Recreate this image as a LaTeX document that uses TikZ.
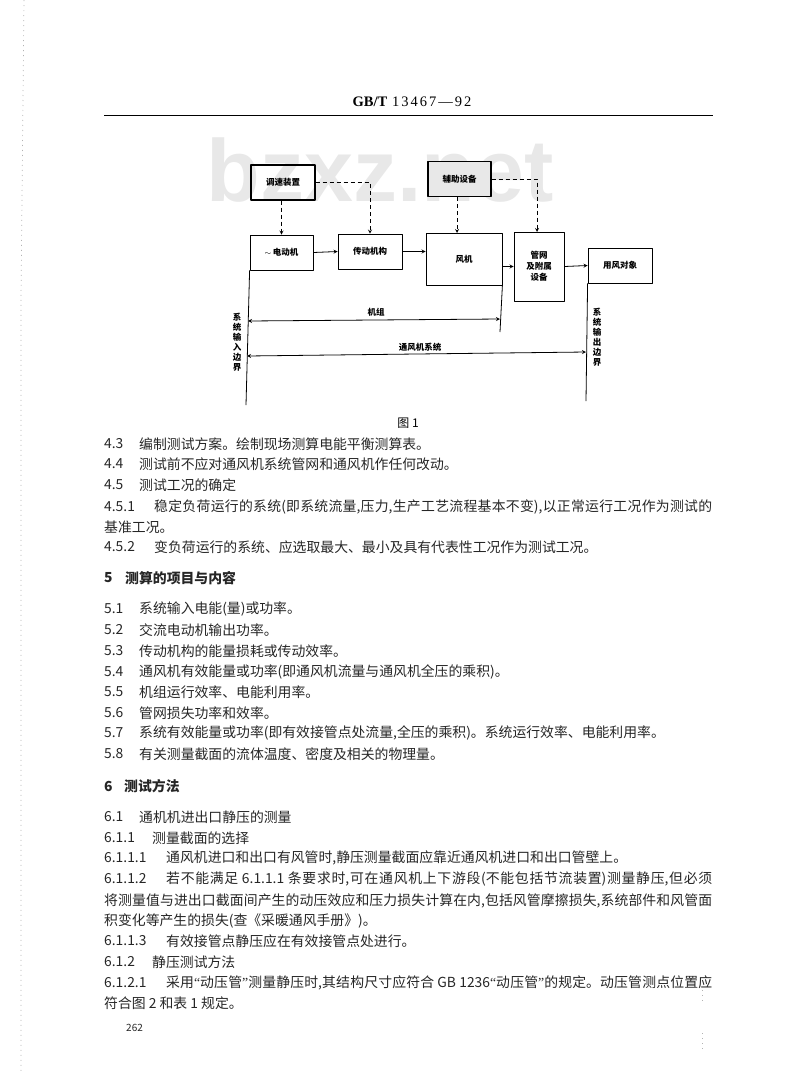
\documentclass[tikz,border=0pt]{standalone}
\usepackage{fontspec}
\setmainfont{Liberation Serif}
\newfontfamily\cjk{Noto Sans CJK SC}
\newfontfamily\wmark{Liberation Sans}
\XeTeXlinebreaklocale "zh"
\XeTeXlinebreakskip=0pt plus 2pt
\newcommand{\fitline}[2]{\parbox{#1pt}{\parfillskip=0pt\noindent #2}}
\newcommand{\gapdigits}{\kern2pt}
\newcommand{\quoteL}{{\rmfamily “}}
\newcommand{\quoteR}{{\rmfamily ”}}
\tikzset{
  unit/.style={draw, line width=.8pt, inner sep=0pt, align=center, font=\cjk\fontsize{8.5}{11}\selectfont\bfseries},
  topunit/.style={unit, line width=1.2pt},
  sigline/.style={line width=.8pt, -stealth},
  ctlline/.style={line width=.8pt, dash pattern=on 4pt off 3pt, -stealth},
  bound/.style={line width=.8pt},
  tag/.style={inner sep=0pt, font=\cjk\fontsize{8.5}{10}\selectfont\bfseries},
  para/.style={anchor=west, inner sep=0pt, text=black!85, font=\cjk\fontsize{13.85}{15}\selectfont},
  head/.style={para, font=\cjk\fontsize{13.85}{15}\selectfont\bfseries},
  scan/.style={line width=.7pt, black!30, dash pattern=on 1pt off 4pt}
}
\begin{document}
\begin{tikzpicture}[x=1pt, y=-1pt, line join=round, >=stealth]
\useasboundingbox (0,0) rectangle (800,1072);
% scan specks
\coordinate (specA) at (24,0);
\coordinate (specB) at (21,300);
\coordinate (specC) at (21,1072);
\coordinate (specD) at (702,990);
\coordinate (specE) at (702,1002);
\coordinate (specF) at (702,1033);
\coordinate (specG) at (702,1050);
\draw[scan] (specA) -- (specB) -- (specC);
\draw[scan] (specD) -- (specE) (specF) -- (specG);
% watermark
\node[inner sep=0pt, text=black!9, font=\wmark\fontsize{88}{88}\selectfont\bfseries] (wmark) at (380,170) {bzxz.net};
% header
\node[inner sep=0pt, font=\fontsize{14.5}{16}\selectfont] (title) at (412,102) {\textbf{GB/T}\kern5pt 1\gapdigits 3\gapdigits 4\gapdigits 6\gapdigits 7\gapdigits ---\gapdigits 9\gapdigits 2};
\coordinate (ruleL) at (104,115);
\coordinate (ruleR) at (713,115);
\draw[line width=1pt] (ruleL) -- (ruleR);
% blocks
\node[topunit, minimum width=64pt, minimum height=35pt] (speedctl) at (283,182.5) {调速装置};
\node[topunit, minimum width=63pt, minimum height=35pt, fill=black!9] (aux) at (459.5,179) {辅助设备};
\node[unit, minimum width=63pt, minimum height=35pt] (motor) at (281.5,252.5) {$\sim$\,电动机};
\node[unit, minimum width=64pt, minimum height=35pt] (drive) at (370,251.5) {传动机构};
\node[unit, minimum width=76pt, minimum height=52pt] (fan) at (464,259) {风机};
\node[unit, minimum width=50pt, minimum height=69pt] (pipe) at (539,266.5) {管网\\及附属\\设备};
\node[unit, minimum width=64pt, minimum height=35pt] (user) at (620,265.5) {用风对象};
% main flow
\draw[sigline] (motor.east) -- (drive.west);
\draw[sigline] (drive.east) -- (drive.east -| fan.west);
\draw[sigline] (fan.east |- pipe.west) -- (pipe.west);
\draw[sigline] (pipe.east) -- (user.west);
% dashed links
\coordinate (fantop) at (457,233);
\coordinate (pipetop) at (537,232);
\draw[ctlline] (speedctl.south -| motor.north) -- (motor.north);
\draw[ctlline] (speedctl.east) -| (drive.north);
\draw[ctlline] (aux.south -| fantop) -- (fantop);
\draw[ctlline] (aux.east) -| (pipetop);
% boundaries
\coordinate (inbot) at (246,405);
\coordinate (fanbot) at (500,332);
\coordinate (outbot) at (586,401);
\draw[bound] (motor.south west) -- (inbot);
\draw[bound] (fan.south east) -- (fanbot);
\draw[bound] (user.south west) -- (outbot);
\coordinate (grpL) at (248,321);
\coordinate (grpR) at (500,319);
\coordinate (sysL) at (247,356);
\coordinate (sysR) at (586,352);
\draw[bound, <->] (grpL) -- (grpR);
\draw[bound, <->] (sysL) -- (sysR);
\node[tag] (grplabel) at (376,312) {机组};
\node[tag] (syslabel) at (420,347) {通风机系统};
\node[tag, align=center] (inlabel) at (237,342) {系\\统\\输\\入\\边\\界};
\node[tag, align=center] (outlabel) at (597,337) {系\\统\\输\\出\\边\\界};
\node[inner sep=0pt, font=\cjk\fontsize{12}{14}\selectfont] (figcap) at (408,423) {图 1};
% body text
\foreach \y/\n/\x/\t in {
  444/4.3/139/{编制测试方案。绘制现场测算电能平衡测算表。},
  464/4.4/139/{测试前不应对通风机系统管网和通风机作任何改动。},
  485/4.5/139/{测试工况的确定},
  547/4.5.2/154/{变负荷运行的系统、应选取最大、最小及具有代表性工况作为测试工况。},
  609/5.1/139/{系统输入电能(量)或功率。},
  630/5.2/139/{交流电动机输出功率。},
  651/5.3/139/{传动机构的能量损耗或传动效率。},
  672/5.4/139/{通风机有效能量或功率(即通风机流量与通风机全压的乘积)。},
  692/5.5/139/{机组运行效率、电能利用率。},
  713/5.6/139/{管网损失功率和效率。},
  733/5.7/139/{系统有效能量或功率(即有效接管点处流量,全压的乘积)。系统运行效率、电能利用率。},
  754/5.8/139/{有关测量截面的流体温度、密度及相关的物理量。},
  817/6.1/139/{通机机进出口静压的测量},
  838/6.1.1/152/{测量截面的选择},
  858/6.1.1.1/166/{通风机进口和出口有风管时,静压测量截面应靠近通风机进口和出口管壁上。},
  941/6.1.1.3/166/{有效接管点静压应在有效接管点处进行。},
  962/6.1.2/152/{静压测试方法}
}{
  \node[para] (num\y) at (104,\y) {\n};
  \node[para] (txt\y) at (\x,\y) {\t};
}
% justified lines
\node[para] (num507) at (104,507) {4.5.1};
\node[para] (txt507) at (154,507) {\fitline{558}{稳定负荷运行的系统(即系统流量,压力,生产工艺流程基本不变),以正常运行工况作为测试的}};
\node[para] (txt527) at (104,527) {基准工况。};
\node[para] (num879) at (104,879) {6.1.1.2};
\node[para] (txt879) at (166,879) {\fitline{546}{若不能满足 6.1.1.1 条要求时,可在通风机上下游段(不能包括节流装置)测量静压,但必须}};
\node[para] (txt901) at (104,901) {\fitline{608}{将测量值与进出口截面间产生的动压效应和压力损失计算在内,包括风管摩擦损失,系统部件和风管面}};
\node[para] (txt921) at (104,921) {积变化等产生的损失(查《采暖通风手册》)。};
\node[para] (num983) at (104,983) {6.1.2.1};
\node[para] (txt983) at (166,983) {\fitline{546}{采用\quoteL 动压管\quoteR 测量静压时,其结构尺寸应符合 GB 1236\quoteL 动压管\quoteR 的规定。动压管测点位置应}};
\node[para] (txt1003) at (104,1003) {符合图 2 和表 1 规定。};
% section heads
\node[head] (sec5) at (104,578) {5};
\node[head] (sec5t) at (125,578) {测算的项目与内容};
\node[head] (sec6) at (104,786) {6};
\node[head] (sec6t) at (124,786) {测试方法};
\node[para, font=\cjk\fontsize{10}{12}\selectfont] (pageno) at (126,1028) {262};
\end{tikzpicture}
\end{document}
